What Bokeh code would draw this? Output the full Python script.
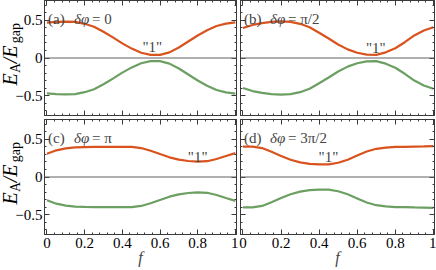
from bokeh.plotting import figure
from bokeh.layouts import gridplot
from bokeh.models import (Range1d, FixedTicker, CustomJSTickFormatter, LinearAxis,
                          Label, Span, Title)
from bokeh.embed import file_html
from bokeh.resources import INLINE

# ---------------- data ----------------
f = [0.0, 0.05, 0.1, 0.15, 0.2, 0.25, 0.3, 0.35, 0.4, 0.45, 0.5,
     0.55, 0.6, 0.65, 0.7, 0.75, 0.8, 0.85, 0.9, 0.95, 1.0]

upper_a = [0.47, 0.48, 0.485, 0.48, 0.455, 0.415, 0.35, 0.275, 0.195, 0.125, 0.07,
           0.042, 0.042, 0.075, 0.14, 0.22, 0.30, 0.37, 0.425, 0.458, 0.473]
lower_a = [-0.47, -0.48, -0.485, -0.48, -0.455, -0.415, -0.35, -0.275, -0.195, -0.125, -0.07,
           -0.042, -0.042, -0.075, -0.14, -0.22, -0.30, -0.37, -0.425, -0.458, -0.473]

upper_b = [0.40, 0.44, 0.465, 0.48, 0.487, 0.48, 0.455, 0.41, 0.335, 0.26, 0.18,
           0.115, 0.07, 0.045, 0.042, 0.075, 0.13, 0.21, 0.30, 0.365, 0.41]
lower_b = [-0.40, -0.44, -0.465, -0.48, -0.487, -0.48, -0.455, -0.41, -0.335, -0.26, -0.18,
           -0.115, -0.07, -0.045, -0.042, -0.075, -0.13, -0.21, -0.30, -0.365, -0.41]

upper_c = [0.31, 0.355, 0.38, 0.393, 0.398, 0.40, 0.40, 0.40, 0.402, 0.40, 0.385,
           0.35, 0.305, 0.262, 0.232, 0.213, 0.205, 0.21, 0.24, 0.28, 0.317]
lower_c = [-0.31, -0.355, -0.38, -0.393, -0.398, -0.40, -0.40, -0.40, -0.402, -0.40, -0.385,
           -0.35, -0.305, -0.262, -0.232, -0.213, -0.205, -0.21, -0.24, -0.28, -0.317]

upper_d = [0.405, 0.403, 0.385, 0.335, 0.28, 0.23, 0.195, 0.175, 0.167, 0.168, 0.19,
           0.23, 0.285, 0.34, 0.375, 0.392, 0.40, 0.402, 0.405, 0.407, 0.41]
lower_d = [-0.405, -0.403, -0.385, -0.335, -0.28, -0.23, -0.195, -0.175, -0.167, -0.168, -0.19,
           -0.23, -0.285, -0.34, -0.375, -0.392, -0.40, -0.402, -0.405, -0.407, -0.41]

panel_tags = ["(a)", "(b)", "(c)", "(d)"]
panel_phase = ["= 0", "= π/2", "= π", "= 3π/2"]
state_label = "\"1\""
state_pos = [(0.559, 0.145), (0.698, 0.134), (0.80, 0.27), (0.449, 0.262)]
y_title_main = "E\u2002/E"                 # italic E, slash, italic E
y_title_sub = "A\u2003\u2009\u2009gap"     # subscripts A and gap
x_title = "f"

x_ticks = [0.0, 0.2, 0.4, 0.6, 0.8, 1.0]
x_minor = [round(i * 0.04, 2) for i in range(26)]
y_ticks = [-0.5, 0.0, 0.5]
y_minor = [round(-0.7 + i * 0.1, 1) for i in range(15)]

ORANGE = "#D9531E"
GREEN = "#6C9F62"
FRAME = "#3a3a3a"
SERIF = "Liberation Serif"

fmt_js = CustomJSTickFormatter(code="""
const t = Math.round(tick * 10) / 10;
if (t === 0) return '0';
const s = Math.abs(t).toString();
return t < 0 ? '\\u2212' + s : s;
""")
blank_js = CustomJSTickFormatter(code="return '';")


def style_axis(ax, ticks, minor, labelled):
    ax.ticker = FixedTicker(ticks=ticks, minor_ticks=minor)
    ax.axis_line_color = FRAME
    ax.axis_line_width = 1
    ax.major_tick_in = 5
    ax.major_tick_out = 0
    ax.minor_tick_in = 2
    ax.minor_tick_out = 0
    ax.major_tick_line_color = FRAME
    ax.minor_tick_line_color = FRAME
    if labelled:
        ax.formatter = fmt_js
        ax.major_label_text_font = SERIF
        ax.major_label_text_font_size = "15px"
        ax.major_label_text_color = "black"
    else:
        ax.formatter = blank_js
        ax.major_label_text_font_size = "1px"
        ax.major_label_standoff = -8


def make_panel(i, up, lo, left_lab, bottom_lab, w, h, bl, br, bt, bb):
    p = figure(width=w, height=h, x_range=Range1d(-0.013, 1.006),
               y_range=Range1d(-0.765, 0.765), output_backend="svg",
               toolbar_location=None, min_border_left=bl, min_border_right=br,
               min_border_top=bt, min_border_bottom=bb)
    p.grid.visible = False
    p.outline_line_color = FRAME
    p.background_fill_color = "white"
    p.border_fill_color = "white"

    style_axis(p.xaxis[0], x_ticks, x_minor, bottom_lab)
    style_axis(p.yaxis[0], y_ticks, y_minor, left_lab)
    if bottom_lab:
        ax = p.xaxis[0]
        ax.major_label_standoff = 3
        ax.axis_label = x_title
        ax.axis_label_text_font = SERIF
        ax.axis_label_text_font_style = "italic"
        ax.axis_label_text_font_size = "16px"
        ax.axis_label_standoff = -2
    if left_lab:
        p.yaxis[0].major_label_standoff = 2
    top = LinearAxis()
    style_axis(top, x_ticks, x_minor, False)
    p.add_layout(top, "above")
    right = LinearAxis()
    style_axis(right, y_ticks, y_minor, False)
    p.add_layout(right, "right")

    p.add_layout(Span(location=0, dimension="width", line_color="#606060", line_width=1))
    p.line(f, up, line_color=ORANGE, line_width=2.2)
    p.line(f, lo, line_color=GREEN, line_width=2.2)

    # panel tags (screen units relative to the frame's bottom-left corner)
    for txt, dx, style in [(panel_tags[i], 3.5, "normal"), ("δφ", 29.5, "italic"),
                           (panel_phase[i], 47.5, "normal")]:
        p.add_layout(Label(x=dx, y=96.7, x_units="screen", y_units="screen",
                           text=txt, text_font=SERIF, text_font_size="15px",
                           text_font_style=style, text_baseline="alphabetic"))
    sx, sy = state_pos[i]
    p.add_layout(Label(x=sx, y=sy, text=state_label, text_font=SERIF,
                       text_font_size="15px", text_align="center",
                       text_baseline="middle"))

    if left_lab:
        t_sub = Title(text=y_title_sub, align="left", vertical_align="bottom",
                      offset=42.5, standoff=-20, text_font=SERIF,
                      text_font_size="14px", text_font_style="normal",
                      text_color="black")
        t_main = Title(text=y_title_main, align="left", vertical_align="bottom",
                       offset=30, standoff=-16, text_font=SERIF,
                       text_font_size="20px", text_font_style="italic",
                       text_color="black")
        p.add_layout(t_sub, "left")
        p.add_layout(t_main, "left")
    return p


pa = make_panel(0, upper_a, lower_a, True, False, 238, 117, 44, 2, 0, 2)
pb = make_panel(1, upper_b, lower_b, False, False, 198, 117, 2, 2, 0, 2)
pc = make_panel(2, upper_c, lower_c, True, True, 238, 153, 44, 2, 2, 36)
pd = make_panel(3, upper_d, lower_d, False, True, 198, 153, 2, 2, 2, 36)

grid = gridplot([[pa, pb], [pc, pd]], toolbar_location=None)

open("out.html", "w").write(file_html(grid, INLINE))
